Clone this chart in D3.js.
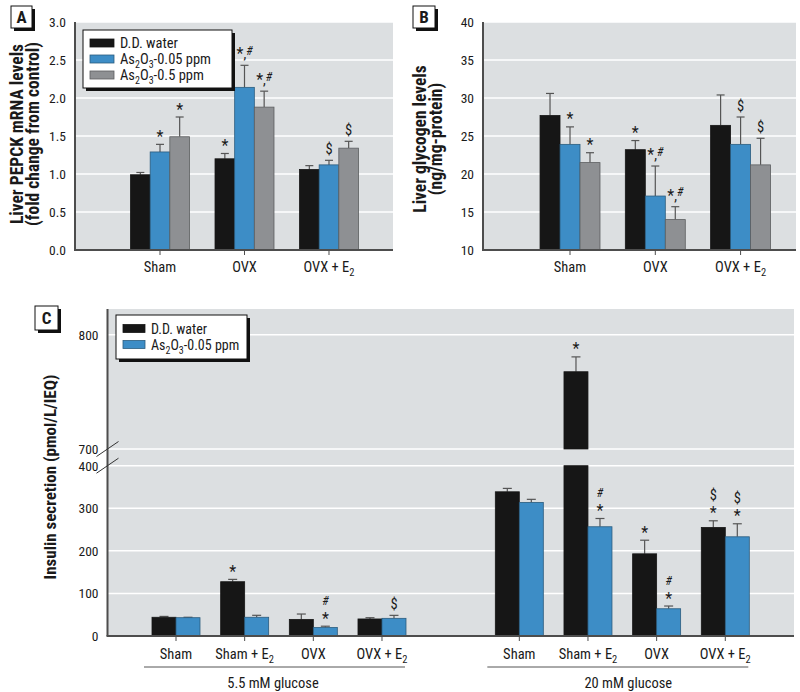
<!DOCTYPE html>
<html><head><meta charset="utf-8">
<script src="https://cdn.jsdelivr.net/npm/d3@7"></script>
<style>
body{margin:0;background:#fff;}
svg text{font-family:"Liberation Sans Narrow","Roboto Condensed","DejaVu Sans Condensed",sans-serif;fill:#1a1a1a;}
</style></head><body>
<svg id="chart" width="800" height="692"></svg>
<script>
// ---------- DATA ----------
const groupsAB = ["Sham", "OVX", "OVX + E_2"];
const seriesA = ["D.D. water", "As_2O_3-0.05 ppm", "As_2O_3-0.5 ppm"];
// Panel A: liver PEPCK mRNA (fold change from control), one array per series over groups
const pepckWater = [0.99, 1.20, 1.06];
const pepckLow   = [1.29, 2.14, 1.12];
const pepckHigh  = [1.49, 1.88, 1.34];
const pepckWaterSe = [0.03, 0.07, 0.05];
const pepckLowSe   = [0.10, 0.29, 0.06];
const pepckHighSe  = [0.26, 0.21, 0.09];
const pepckAnnWater = ["", "*", ""];
const pepckAnnLow   = ["*", "*,#", "$"];
const pepckAnnHigh  = ["*", "*,#", "$"];
const ticksA = [0, 0.5, 1.0, 1.5, 2.0, 2.5, 3.0];
// Panel B: liver glycogen (ng/mg-protein)
const glyWater = [27.7, 23.2, 26.4];
const glyLow   = [23.9, 17.1, 23.9];
const glyHigh  = [21.5, 14.0, 21.2];
const glyWaterSe = [2.9, 1.2, 4.0];
const glyLowSe   = [2.3, 3.95, 3.6];
const glyHighSe  = [1.3, 1.7, 3.5];
const glyAnnWater = ["", "*", ""];
const glyAnnLow   = ["*", "*,#", "$"];
const glyAnnHigh  = ["*", "*,#", "$"];
const ticksB = [10, 15, 20, 25, 30, 35, 40];
// Panel C: insulin secretion (pmol/L/IEQ)
const glucose = ["5.5 mM glucose", "20 mM glucose"];
const catsC = ["Sham", "Sham + E_2", "OVX", "OVX + E_2"];
const seriesC = ["D.D. water", "As_2O_3-0.05 ppm"];
const insWater55 = [44, 127.5, 39, 40];
const insWater55Se = [2, 5.5, 12.6, 3];
const insLow55 = [43, 44, 20, 41.5];
const insLow55Se = [1, 4.6, 3, 7];
const insWater20 = [338.7, 767.6, 193, 255];
const insWater20Se = [8, 13, 32, 15.6];
const insLow20 = [313.8, 256.6, 64, 233];
const insLow20Se = [7.2, 19.4, 6.4, 30.6];
const annWater55 = ["", "*", "", ""];
const annLow55 = ["", "", "#|*", "$"];
const annWater20 = ["", "*", "*", "$|*"];
const annLow20 = ["", "#|*", "#|*", "$|*"];
const ticksC = [0, 100, 200, 300, 400, 700, 800];
const breaksC = [400, 700];

// ---------- STYLE ----------
const BG = "#dcdfe1";
const FILL = ["#161616", "#3d8dc6", "#8e9093"];
const EDGE = ["#161616", "#2b5c7e", "#5c5e60"];
const AXIS = "#4d4d4d";
const svg = d3.select("#chart");

function rich(sel, str, subSize) {
  const parts = str.split(/_(\d)/);
  let down = false;
  parts.forEach((p, i) => {
    if (!p) return;
    const t = sel.append("tspan").text(p);
    if (i % 2 === 1) { t.attr("font-size", subSize).attr("dy", down ? 0 : 4); down = true; }
    else if (down) { t.attr("dy", -4); down = false; }
  });
}

function annotLine(g, x, c, str) {
  const t = g.append("text").attr("x", x).attr("text-anchor", "middle");
  let off;
  if (str === "*") off = 8.6; else if (str === "$") off = 5; else if (str === "#") off = 4.5; else off = 0.5;
  t.attr("y", c + off);
  let shifted = false;
  for (const ch of str) {
    const s = t.append("tspan").text(ch);
    if (ch === "*") {
      s.attr("font-size", 16);
      if (str.length > 1) { s.attr("dy", 4.5); shifted = true; }
    } else if (ch === "#") {
      s.attr("font-size", 12).attr("font-style", "italic");
      if (shifted) { s.attr("dy", -4.5); shifted = false; }
    } else if (ch === "$") s.attr("font-size", 14.5);
    else s.attr("font-size", 14);
  }
}
function annot(g, x, yTop, str) {
  if (!str) return;
  const lines = str.split("|");
  lines.reverse().forEach((l, i) => annotLine(g, x, yTop - 11 - i * 15, l));
}

function panelBox(x, y, w, h, letter) {
  svg.append("rect").attr("x", x + 3).attr("y", y + 3).attr("width", w).attr("height", h).attr("fill", "#111");
  svg.append("rect").attr("x", x).attr("y", y).attr("width", w).attr("height", h).attr("fill", "#fff").attr("stroke", "#111").attr("stroke-width", 1);
  svg.append("text").attr("x", x + w / 2).attr("y", y + h / 2 + 6).attr("text-anchor", "middle")
    .attr("font-size", 17).attr("font-weight", "bold").text(letter);
}

function legend(x, y, w, h, items, swW, rowH, first, fs) {
  svg.append("rect").attr("x", x + 3).attr("y", y + 3).attr("width", w).attr("height", h).attr("fill", "#111");
  svg.append("rect").attr("x", x).attr("y", y).attr("width", w).attr("height", h).attr("fill", "#fff").attr("stroke", "#111");
  items.forEach((it, i) => {
    const cy = y + first + i * rowH;
    svg.append("rect").attr("x", x + 7).attr("y", cy - 4).attr("width", swW).attr("height", 8)
      .attr("fill", FILL[i]).attr("stroke", EDGE[i]).attr("stroke-width", 0.8);
    const t = svg.append("text").attr("x", x + 7 + swW + 6).attr("y", cy + 5).attr("font-size", fs);
    rich(t, it, 10);
  });
}

function yTitle(x, y, lines, size, gap) {
  lines.forEach((l, i) => {
    svg.append("text").attr("transform", `translate(${x + i * gap},${y}) rotate(-90)`)
      .attr("text-anchor", "middle").attr("font-size", size).attr("font-weight", "bold").text(l);
  });
}

function yAxis(g, y, left, ticks, fmt) {
  const ax = g.append("g").attr("transform", `translate(${left},0)`)
    .call(d3.axisLeft(y).tickValues(ticks).tickSize(0).tickPadding(9).tickFormat(fmt));
  ax.select(".domain").remove();
  ax.attr("font-family", null).attr("font-size", null);
  ax.selectAll("text").attr("font-size", 13.5).attr("fill", "#1a1a1a");
}

// ---------- PANELS A & B ----------
function drawAB(cfg) {
  const g = svg.append("g");
  const { left, right, top, bottom, y, x0, means, ses, anns, ticks, fmt } = cfg;
  g.append("rect").attr("x", left).attr("y", top).attr("width", right - left).attr("height", bottom - top).attr("fill", BG);
  g.selectAll("line.grid").data(ticks.slice(1)).join("line").attr("class", "grid")
    .attr("x1", left).attr("x2", right).attr("y1", d => y(d)).attr("y2", d => y(d))
    .attr("stroke", "#fff").attr("stroke-width", 1.5);
  const x1 = d3.scaleBand().domain(d3.range(means.length)).range([0, x0.bandwidth()]);
  groupsAB.forEach((gr, gi) => {
    means.forEach((arr, si) => {
      const v = arr[gi], e = ses[si][gi];
      const bx = x0(gr) + x1(si), bw = x1.bandwidth(), cx = bx + bw / 2;
      g.append("line").attr("x1", cx).attr("x2", cx).attr("y1", y(v)).attr("y2", y(v + e)).attr("stroke", "#555").attr("stroke-width", 1.2);
      g.append("line").attr("x1", cx - 4).attr("x2", cx + 4).attr("y1", y(v + e)).attr("y2", y(v + e)).attr("stroke", "#555").attr("stroke-width", 1.2);
      g.append("rect").attr("x", bx).attr("y", y(v)).attr("width", bw).attr("height", y.range()[0] - y(v))
        .attr("fill", FILL[si]).attr("stroke", EDGE[si]).attr("stroke-width", 0.8);
      annot(g, cx, y(v + e), anns[si][gi]);
    });
  });
  g.append("line").attr("x1", left).attr("x2", left).attr("y1", top).attr("y2", bottom).attr("stroke", AXIS).attr("stroke-width", 2);
  g.append("line").attr("x1", left - 1).attr("x2", right).attr("y1", bottom).attr("y2", bottom).attr("stroke", AXIS).attr("stroke-width", 2);
  groupsAB.forEach(gr => {
    const cx = x0(gr) + x0.bandwidth() / 2;
    g.append("line").attr("x1", cx).attr("x2", cx).attr("y1", bottom).attr("y2", bottom + 5).attr("stroke", AXIS);
    const t = g.append("text").attr("x", cx).attr("y", bottom + 22).attr("text-anchor", "middle").attr("font-size", 14.5);
    rich(t, gr, 10.5);
  });
  yAxis(g, y, left, ticks, fmt);
}

const yA = d3.scaleLinear().domain([0, 3]).range([250, 22]);
const xA = d3.scaleBand().domain(groupsAB).range([105, 384]).padding(0.302);
drawAB({ left: 75, right: 393, top: 22, bottom: 250, y: yA, x0: xA,
  means: [pepckWater, pepckLow, pepckHigh], ses: [pepckWaterSe, pepckLowSe, pepckHighSe],
  anns: [pepckAnnWater, pepckAnnLow, pepckAnnHigh], ticks: ticksA, fmt: d3.format(".1f") });

const yB = d3.scaleLinear().domain([10, 40]).range([250, 22]);
const xB = d3.scaleBand().domain(groupsAB).range([514.7, 795.9]).padding(0.297);
drawAB({ left: 483, right: 796, top: 22, bottom: 250, y: yB, x0: xB,
  means: [glyWater, glyLow, glyHigh], ses: [glyWaterSe, glyLowSe, glyHighSe],
  anns: [glyAnnWater, glyAnnLow, glyAnnHigh], ticks: ticksB, fmt: d3.format("d") });
</script>
<script>
// ---------- PANEL C ----------
(function () {
  const g = svg.append("g");
  const left = 107.5, right = 794, top = 309, bottom = 636;
  const y = d3.scaleLinear().domain([0, 400, 700, 822.5]).range([636, 465.7, 449, 309]);
  const slot = d3.scaleLinear().domain([0, 8]).range([176, 725.3]);
  const bw = 24;
  g.append("rect").attr("x", left).attr("y", top).attr("width", right - left).attr("height", bottom - top).attr("fill", BG);
  g.selectAll("line.grid").data(ticksC.slice(1)).join("line").attr("class", "grid")
    .attr("x1", left).attr("x2", right).attr("y1", d => y(d)).attr("y2", d => y(d))
    .attr("stroke", "#fff").attr("stroke-width", 1.5);
  const sets = [
    [[insWater55, insWater55Se, annWater55], [insLow55, insLow55Se, annLow55]],
    [[insWater20, insWater20Se, annWater20], [insLow20, insLow20Se, annLow20]]
  ];
  sets.forEach((grp, gi) => {
    catsC.forEach((c, ci) => {
      const cx0 = slot(gi * 5 + ci);
      grp.forEach(([vals, ses, anns], si) => {
        const v = vals[ci], e = ses[ci];
        const bx = cx0 - bw + si * bw, cx = bx + bw / 2;
        g.append("line").attr("x1", cx).attr("x2", cx).attr("y1", y(v)).attr("y2", y(v + e)).attr("stroke", "#555").attr("stroke-width", 1.2);
        g.append("line").attr("x1", cx - 4.5).attr("x2", cx + 4.5).attr("y1", y(v + e)).attr("y2", y(v + e)).attr("stroke", "#555").attr("stroke-width", 1.2);
        if (v > breaksC[1]) {
          g.append("rect").attr("x", bx).attr("y", y(breaksC[0])).attr("width", bw).attr("height", y(0) - y(breaksC[0]))
            .attr("fill", FILL[si]).attr("stroke", EDGE[si]).attr("stroke-width", 0.8);
          g.append("rect").attr("x", bx).attr("y", y(v)).attr("width", bw).attr("height", y(breaksC[1]) - y(v))
            .attr("fill", FILL[si]).attr("stroke", EDGE[si]).attr("stroke-width", 0.8);
        } else {
          g.append("rect").attr("x", bx).attr("y", y(v)).attr("width", bw).attr("height", y(0) - y(v))
            .attr("fill", FILL[si]).attr("stroke", EDGE[si]).attr("stroke-width", 0.8);
        }
        annot(g, cx, y(v + e), anns[ci]);
      });
      g.append("line").attr("x1", cx0).attr("x2", cx0).attr("y1", bottom).attr("y2", bottom + 5).attr("stroke", AXIS);
      const t = g.append("text").attr("x", cx0).attr("y", bottom + 23).attr("text-anchor", "middle").attr("font-size", 14.5);
      rich(t, c, 10.5);
    });
    const x1 = slot(gi * 5) - 32, x2 = slot(gi * 5 + 3) + 23;
    g.append("line").attr("x1", x1).attr("x2", x2).attr("y1", 667).attr("y2", 667).attr("stroke", "#555").attr("stroke-width", 1);
    g.append("text").attr("x", (slot(gi * 5) + slot(gi * 5 + 3)) / 2 + (gi === 0 ? -6 : 6)).attr("y", 688).attr("text-anchor", "middle")
      .attr("font-size", 14.5).text(glucose[gi]);
  });
  g.append("line").attr("x1", left).attr("x2", left).attr("y1", top).attr("y2", bottom).attr("stroke", AXIS).attr("stroke-width", 2);
  g.append("line").attr("x1", left - 1).attr("x2", right).attr("y1", bottom).attr("y2", bottom).attr("stroke", AXIS).attr("stroke-width", 2);
  breaksC.forEach(b => {
    g.append("line").attr("x1", left - 11).attr("x2", left + 11).attr("y1", y(b) + 7.5).attr("y2", y(b) - 7.5).attr("stroke", "#333").attr("stroke-width", 1);
  });
  yAxis(g, y, left, ticksC, d3.format("d"));
  legend(116, 315, 131, 44, seriesC, 22, 16, 13.5, 14);
})();

// ---------- DECORATIONS ----------
legend(83, 30, 149, 58, seriesA, 24, 16, 13, 14.5);
panelBox(11, 6, 21, 22, "A");
panelBox(413, 6, 22, 22, "B");
panelBox(35, 306, 23, 24, "C");
yTitle(23, 134, ["Liver PEPCK mRNA levels", "(fold change from control)"], 17.5, 16);
yTitle(426, 139, ["Liver glycogen levels", "(ng/mg-protein)"], 17.5, 16);
yTitle(56, 477, ["Insulin secretion (pmol/L/IEQ)"], 17, 0);
</script>
</body></html>
